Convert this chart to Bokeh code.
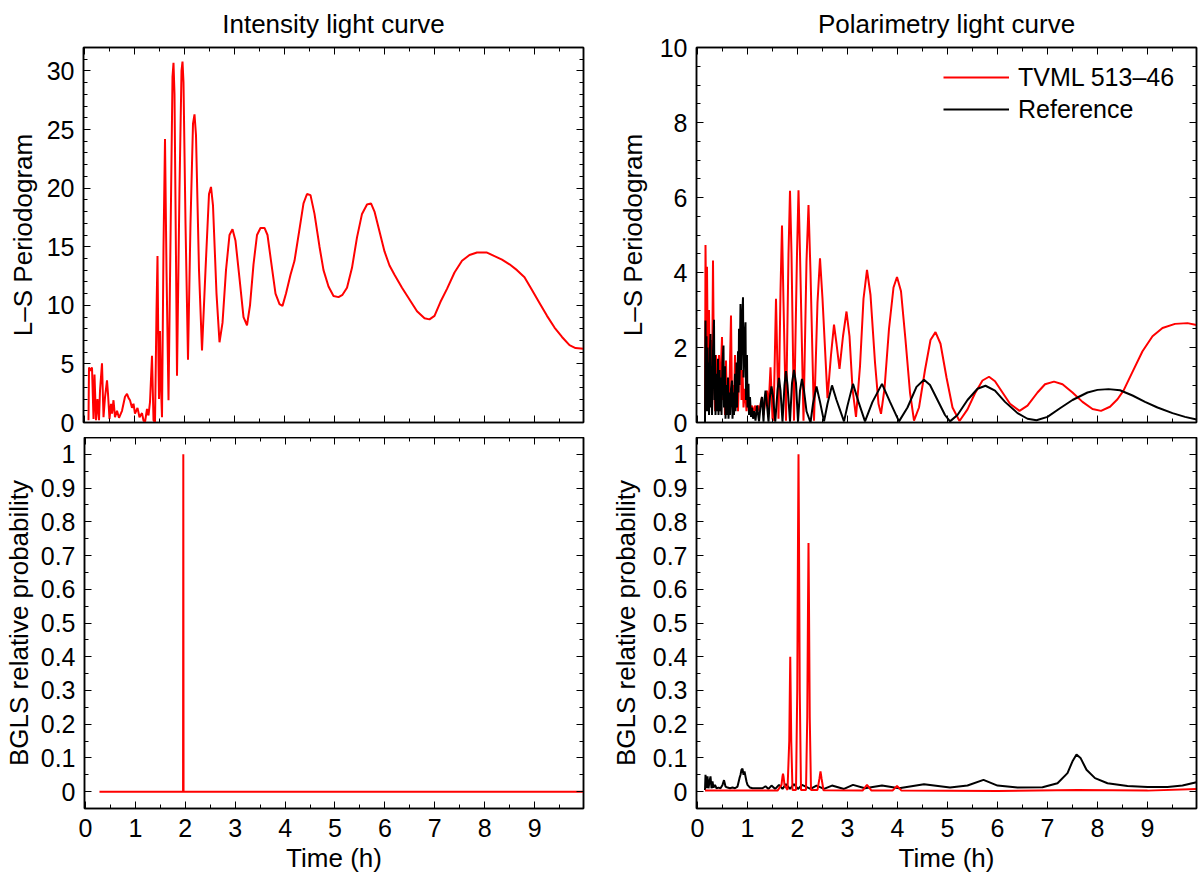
from bokeh.plotting import figure
from bokeh.models import (Range1d, FixedTicker, LinearAxis, NumeralTickFormatter,
                          CustomJSTickFormatter, Legend, LegendItem)
from bokeh.layouts import row, column
from bokeh.embed import file_html
from bokeh.resources import INLINE

# ---------------- data ----------------
X_TICKS = [0, 1, 2, 3, 4, 5, 6, 7, 8, 9]

# Intensity light curve: L-S periodogram (red)
int_ls_x = [0.08, 0.09, 0.12, 0.15, 0.18, 0.2, 0.23, 0.26, 0.29, 0.31, 0.35, 0.38, 0.41, 0.45, 0.47, 0.5,
            0.53, 0.55, 0.58, 0.61, 0.65, 0.69, 0.75, 0.78, 0.81, 0.85, 0.88, 0.91, 0.95, 0.98, 1.01, 1.06,
            1.1, 1.15, 1.18, 1.21, 1.25, 1.28, 1.31, 1.35, 1.38, 1.41, 1.44, 1.46, 1.48, 1.49, 1.51, 1.53,
            1.55, 1.58, 1.61, 1.64, 1.68, 1.73, 1.76, 1.78, 1.8, 1.83, 1.85, 1.9, 1.94, 1.96, 1.98, 2.02,
            2.07, 2.12, 2.17, 2.2, 2.23, 2.29, 2.35, 2.42, 2.49, 2.53, 2.57, 2.64, 2.7, 2.76, 2.83, 2.9,
            2.96, 3.02, 3.1, 3.18, 3.25, 3.31, 3.38, 3.45, 3.52, 3.6, 3.66, 3.73, 3.82, 3.9, 3.96, 4.03,
            4.12, 4.2, 4.3, 4.38, 4.45, 4.52, 4.6, 4.7, 4.78, 4.88, 4.98, 5.08, 5.16, 5.25, 5.35, 5.45,
            5.55, 5.65, 5.73, 5.8, 5.9, 6.0, 6.1, 6.2, 6.35, 6.5, 6.65, 6.8, 6.9, 7.0, 7.12, 7.25, 7.4,
            7.55, 7.7, 7.85, 8.05, 8.2, 8.35, 8.5, 8.65, 8.8, 8.95, 9.1, 9.25, 9.4, 9.55, 9.7, 9.82, 9.98]
int_ls_y = [0.2, 4.7, 4.4, 4.7, 0.3, 4.1, 0.2, 2.0, 0.2, 2.7, 5.05, 0.45, 2.15, 3.6, 2.45, 0.3,
            1.6, 0.75, 1.9, 0.45, 1.0, 0.4, 1.0, 1.6, 2.2, 2.45, 2.1, 1.9, 1.25, 1.6, 0.75, 1.25,
            0.45, 0.8, 0.17, 0.03, 1.15, 0.6, 1.75, 5.7, 0.2, 0.0, 9.5, 14.2, 5.0, 2.0, 7.8, 3.0,
            0.45, 15.0, 24.2, 13.0, 1.9, 19.0, 29.5, 30.7, 28.0, 14.0, 4.0, 20.0, 30.0, 30.8, 29.0, 17.0,
            5.35, 17.0, 25.5, 26.3, 24.5, 13.0, 6.15, 13.0, 19.5, 20.1, 18.5, 11.0, 6.85, 8.5, 13.0, 16.0,
            16.5, 15.5, 12.3, 9.0, 8.3, 10.0, 13.5, 16.0, 16.6, 16.6, 16.0, 13.8, 11.0, 10.1, 9.95, 11.0,
            12.6, 13.8, 16.5, 18.7, 19.5, 19.4, 17.8, 15.0, 13.0, 11.6, 10.8, 10.7, 10.9, 11.5, 13.2, 15.8,
            17.8, 18.6, 18.7, 18.0, 16.3, 14.6, 13.4, 12.6, 11.5, 10.5, 9.5, 8.9, 8.8, 9.1, 10.3, 11.4, 12.8,
            13.8, 14.3, 14.5, 14.5, 14.2, 13.9, 13.5, 13.0, 12.4, 11.3, 10.2, 9.1, 8.1, 7.3, 6.6, 6.35, 6.3]

# Intensity light curve: BGLS (red)
int_bgls_x = [0.28, 1.955, 1.96, 1.965, 9.98]
int_bgls_y = [0.0, 0.0, 1.0, 0.0, 0.0]

# Polarimetry light curve: L-S periodogram, TVML 513-46 (red)
pol_ls_red_x = [0.15, 0.16, 0.18, 0.19, 0.21, 0.23, 0.25, 0.27, 0.29, 0.31, 0.33, 0.35, 0.37, 0.39, 0.41,
                0.43, 0.45, 0.47, 0.49, 0.51, 0.53, 0.55, 0.57, 0.59, 0.61, 0.63, 0.65, 0.67, 0.69, 0.71,
                0.73, 0.75, 0.77, 0.79, 0.81, 0.84, 0.86, 0.88, 0.9, 0.92, 0.95, 0.98, 1.01, 1.03, 1.06,
                1.09, 1.12, 1.15, 1.18, 1.21, 1.24, 1.27, 1.29, 1.32, 1.36, 1.39, 1.42, 1.46, 1.5, 1.52,
                1.57, 1.62, 1.66, 1.69, 1.72, 1.77, 1.82, 1.85, 1.88, 1.93, 1.99, 2.02, 2.05, 2.12, 2.18,
                2.22, 2.26, 2.33, 2.4, 2.45, 2.5, 2.6, 2.67, 2.73, 2.78, 2.84, 2.91, 2.98, 3.04, 3.1, 3.17,
                3.25, 3.32, 3.39, 3.46, 3.55, 3.62, 3.67, 3.74, 3.83, 3.92, 3.99, 4.07, 4.16, 4.25, 4.33,
                4.43, 4.55, 4.66, 4.76, 4.86, 4.98, 5.1, 5.24, 5.4, 5.55, 5.7, 5.83, 5.95, 6.1, 6.25, 6.44,
                6.6, 6.8, 6.95, 7.13, 7.3, 7.5, 7.7, 7.9, 8.07, 8.25, 8.4, 8.52, 8.7, 8.9, 9.1, 9.3, 9.55,
                9.8, 9.98]
pol_ls_red_y = [0.0, 4.73, 2.0, 4.15, 1.0, 3.0, 0.5, 2.2, 0.8, 4.32, 1.2, 0.3, 1.8, 0.4, 1.0,
                1.8, 0.3, 1.5, 2.28, 0.6, 1.2, 0.2, 1.65, 0.4, 1.0, 0.3, 1.6, 2.85, 0.5, 1.0,
                0.2, 1.8, 0.4, 1.2, 0.3, 1.8, 2.5, 0.6, 1.4, 0.4, 0.9, 0.3, 0.7, 0.59, 0.3,
                0.45, 0.25, 0.45, 0.3, 0.45, 0.3, 0.55, 0.68, 0.2, 0.6, 0.85, 0.35, 1.47, 0.1, 0.05,
                3.3, 0.1, 3.5, 5.25, 3.2, 0.05, 4.5, 6.18, 4.5, 0.05, 4.5, 6.19, 4.5, 0.05, 4.3,
                5.8, 4.0, 0.05, 3.2, 4.38, 3.3, 0.65, 1.8, 2.61, 2.1, 1.43, 2.3, 2.96, 2.3, 0.9, 0.15,
                1.5, 3.3, 4.07, 3.4, 1.6, 0.5, 0.23, 0.9, 2.5, 3.6, 3.88, 3.5, 2.2, 0.8, 0.05,
                0.4, 1.4, 2.2, 2.41, 2.1, 1.2, 0.4, 0.04, 0.35, 0.78, 1.12, 1.22, 1.1, 0.8, 0.5, 0.31,
                0.45, 0.8, 1.02, 1.09, 1.02, 0.8, 0.55, 0.36, 0.31, 0.42, 0.62, 0.85, 1.35, 1.9, 2.3, 2.52, 2.63,
                2.65, 2.6]

# Polarimetry light curve: L-S periodogram, Reference (black)
pol_ls_ref_x = [0.15, 0.16, 0.17, 0.18, 0.19, 0.2, 0.21, 0.22, 0.23, 0.25, 0.26, 0.27, 0.28, 0.29, 0.31,
                0.33, 0.34, 0.35, 0.36, 0.38, 0.39, 0.41, 0.42, 0.44, 0.45, 0.47, 0.48, 0.5, 0.52, 0.53,
                0.55, 0.56, 0.58, 0.59, 0.61, 0.62, 0.64, 0.65, 0.67, 0.69, 0.7, 0.72, 0.73, 0.75, 0.76,
                0.78, 0.79, 0.81, 0.82, 0.83, 0.84, 0.86, 0.87, 0.89, 0.91, 0.92, 0.94, 0.96, 0.97, 0.99,
                1.0, 1.02, 1.03, 1.05, 1.07, 1.09, 1.11, 1.13, 1.16, 1.19, 1.23, 1.27, 1.29, 1.32, 1.34,
                1.36, 1.38, 1.42, 1.45, 1.48, 1.51, 1.555, 1.6, 1.63, 1.66, 1.7, 1.74, 1.77, 1.8, 1.85,
                1.89, 1.93, 1.97, 2.01, 2.05, 2.09, 2.13, 2.18, 2.26, 2.31, 2.38, 2.45, 2.53, 2.6, 2.69,
                2.78, 2.93, 3.0, 3.11, 3.22, 3.35, 3.5, 3.69, 3.85, 4.03, 4.2, 4.38, 4.53, 4.65, 4.8,
                4.95, 5.05, 5.2, 5.4, 5.6, 5.76, 5.95, 6.15, 6.4, 6.6, 6.78, 7.0, 7.25, 7.5, 7.8, 8.0,
                8.22, 8.45, 8.7, 8.95, 9.2, 9.5, 9.75, 9.98]
pol_ls_ref_y = [0.0, 2.72, 0.5, 2.3, 0.3, 2.0, 0.4, 1.6, 0.2, 2.0, 2.36, 0.4, 1.5, 0.2, 1.9,
                2.74, 0.6, 1.8, 0.2, 1.3, 0.3, 1.7, 0.2, 1.4, 0.3, 1.2, 0.2, 1.6, 2.05, 0.4,
                1.5, 0.1, 1.0, 0.2, 1.2, 0.1, 0.8, 0.2, 0.9, 1.12, 0.1, 0.8, 0.2, 1.3, 0.3,
                1.6, 0.4, 1.9, 0.8, 2.5, 1.0, 3.16, 1.4, 2.6, 3.34, 1.2, 2.2, 2.67, 0.6, 1.8,
                0.4, 1.03, 0.2, 0.68, 0.15, 0.4, 0.1, 0.3, 0.05, 0.45, 0.03, 0.55, 0.68, 0.02, 0.6,
                0.85, 0.6, 0.02, 0.7, 0.96, 0.7, 0.02, 0.85, 1.19, 0.85, 0.02, 1.0, 1.37, 1.0, 0.02,
                1.05, 1.40, 1.05, 0.02, 0.85, 1.16, 0.85, 0.3, 0.0, 0.5, 0.96, 0.55, 0.03, 0.5, 0.99,
                0.6, 0.03, 0.45, 1.03, 0.55, 0.03, 0.55, 1.03, 0.55, 0.03, 0.4, 0.95, 1.14, 1.0, 0.6,
                0.2, 0.03, 0.2, 0.6, 0.9, 0.98, 0.85, 0.55, 0.25, 0.1, 0.06, 0.15, 0.38, 0.6, 0.8, 0.87,
                0.89, 0.86, 0.72, 0.55, 0.4, 0.25, 0.15, 0.08]

# Polarimetry light curve: BGLS, TVML 513-46 (red)
pol_bgls_red_x = [0.15, 1.6, 1.68, 1.7, 1.71, 1.72, 1.74, 1.8, 1.835, 1.85, 1.855, 1.86, 1.875, 1.9,
                  1.97, 1.995, 2.01, 2.02, 2.03, 2.045, 2.07, 2.17, 2.195, 2.21, 2.22, 2.23, 2.245, 2.27,
                  2.4, 2.44, 2.46, 2.48, 2.52, 3.3, 3.39, 3.48, 3.9, 3.99, 4.08, 6.0, 7.6, 9.0, 9.98]
pol_bgls_red_y = [0.003, 0.003, 0.02, 0.045, 0.053, 0.045, 0.02, 0.005, 0.15, 0.34, 0.40, 0.34, 0.15, 0.005,
                  0.005, 0.3, 0.75, 1.0, 0.75, 0.3, 0.005, 0.005, 0.22, 0.55, 0.737, 0.55, 0.22, 0.005,
                  0.005, 0.04, 0.06, 0.04, 0.004, 0.003, 0.02, 0.003, 0.003, 0.017, 0.003, 0.002, 0.005, 0.003, 0.008]

# Polarimetry light curve: BGLS, Reference (black)
pol_bgls_ref_x = [0.15, 0.16, 0.18, 0.2, 0.22, 0.24, 0.26, 0.28, 0.3, 0.32, 0.35, 0.38, 0.42, 0.46, 0.5,
                  0.53, 0.56, 0.6, 0.65, 0.7, 0.75, 0.8, 0.84, 0.86, 0.88, 0.9, 0.92, 0.94, 0.96, 0.98,
                  1.0, 1.05, 1.1, 1.3, 1.36, 1.42, 1.48, 1.555, 1.63, 1.7, 1.77, 1.85, 1.93, 2.01, 2.09,
                  2.26, 2.38, 2.53, 2.69, 2.93, 3.11, 3.35, 3.69, 4.03, 4.53, 5.05, 5.4, 5.72, 6.0, 6.4,
                  6.9, 7.2, 7.4, 7.5, 7.58, 7.66, 7.78, 7.95, 8.2, 8.6, 9.0, 9.4, 9.7, 9.98]
pol_bgls_ref_y = [0.005, 0.05, 0.01, 0.045, 0.01, 0.03, 0.045, 0.01, 0.03, 0.012, 0.02, 0.01, 0.012, 0.01, 0.02,
                  0.034, 0.015, 0.012, 0.01, 0.012, 0.01, 0.015, 0.04, 0.05, 0.065, 0.068, 0.05, 0.06, 0.045, 0.03,
                  0.02, 0.012, 0.01, 0.01, 0.016, 0.008, 0.018, 0.008, 0.02, 0.008, 0.022, 0.008, 0.022, 0.008, 0.02,
                  0.008, 0.018, 0.008, 0.018, 0.008, 0.02, 0.01, 0.018, 0.01, 0.022, 0.012, 0.018, 0.035, 0.018, 0.012,
                  0.013, 0.025, 0.055, 0.09, 0.11, 0.1, 0.065, 0.04, 0.025, 0.017, 0.014, 0.014, 0.018, 0.028]

LS_INT_TICKS = [0, 5, 10, 15, 20, 25, 30]
LS_POL_TICKS = [0, 2, 4, 6, 8, 10]
BGLS_TICKS = [0, 0.1, 0.2, 0.3, 0.4, 0.5, 0.6, 0.7, 0.8, 0.9, 1.0]

TITLES = ["Intensity light curve", "Polarimetry light curve"]
LEGEND_LABELS = ["TVML 513\u201346", "Reference"]

# ---------------- styling ----------------
FONT = "Liberation Sans"
RED = "#ff0000"
BLACK = "#000000"
LW = 2.0
FRAME_W = 500

X_MINOR = [k + 0.5 for k in range(10)]
INT_MINOR = [v for v in range(0, 33) if v % 5 != 0]
POL_MINOR = [v * 0.5 for v in range(0, 21) if v % 4 != 0]
BGLS_MINOR = [round(-0.05 + 0.1 * k, 2) for k in range(12)]


def style_axis(ax, ticks, minor, labels=True):
    ax.ticker = FixedTicker(ticks=ticks, minor_ticks=minor)
    ax.axis_line_color = "black"
    ax.axis_line_width = 1.5
    ax.major_tick_in = 7
    ax.major_tick_out = 0
    ax.minor_tick_in = 4
    ax.minor_tick_out = 0
    ax.major_tick_line_color = "black"
    ax.minor_tick_line_color = "black"
    ax.major_tick_line_width = 1
    ax.minor_tick_line_width = 1
    if labels:
        ax.major_label_text_font = FONT
        ax.major_label_text_font_size = "25px"
        ax.major_label_text_color = "black"
        ax.major_label_standoff = 9
    else:
        ax.formatter = CustomJSTickFormatter(code="return ''")
        ax.major_label_text_font_size = "1px"
        ax.major_label_standoff = 0
    ax.axis_label_text_font = FONT
    ax.axis_label_text_font_size = "26px"
    ax.axis_label_text_font_style = "normal"
    ax.axis_label_text_color = "black"


def make_panel(col, top, y_lo, y_hi, y_ticks, y_minor, ylabel, label_standoff, y_fmt=None, title=None):
    left = 83 if col == 0 else 103
    right = 10 if col == 0 else 3
    frame_h = 375 if top else 371
    t_b = 47 if top else 0
    b_b = 15 if top else 67
    p = figure(width=left + FRAME_W + right, height=t_b + frame_h + b_b,
               x_range=Range1d(-0.02, 9.98), y_range=Range1d(y_lo, y_hi),
               output_backend="svg", toolbar_location=None,
               min_border_left=left, min_border_right=right,
               min_border_top=t_b, min_border_bottom=b_b,
               background_fill_color="white", border_fill_color="white")
    p.grid.visible = False
    p.outline_line_color = "black"
    p.outline_line_width = 1.5
    if title:
        p.title.text = title
        p.title.text_font = FONT
        p.title.text_font_size = "26px"
        p.title.text_font_style = "normal"
        p.title.text_color = "black"
        p.title.align = "center"
        p.title.vertical_align = "top"
        p.title.standoff = 14
    # bottom axis
    xb = p.xaxis[0]
    style_axis(xb, X_TICKS, X_MINOR, labels=not top)
    if not top:
        xb.axis_label = "Time (h)"
        xb.major_label_standoff = 10
        xb.axis_label_standoff = 3
    # left axis
    yl = p.yaxis[0]
    style_axis(yl, y_ticks, y_minor, labels=True)
    if y_fmt is not None:
        yl.formatter = y_fmt
    yl.axis_label = ylabel
    yl.axis_label_standoff = label_standoff
    # mirrored axes (ticks only)
    xa = LinearAxis()
    style_axis(xa, X_TICKS, X_MINOR, labels=False)
    p.add_layout(xa, "above")
    yr = LinearAxis()
    style_axis(yr, y_ticks, y_minor, labels=False)
    p.add_layout(yr, "right")
    return p


p1 = make_panel(0, True, 0, 32, LS_INT_TICKS, INT_MINOR, "L\u2013S Periodogram", 6, title=TITLES[0])
p1.line(int_ls_x, int_ls_y, line_color=RED, line_width=LW)

p2 = make_panel(1, True, 0, 10, LS_POL_TICKS, POL_MINOR, "L\u2013S Periodogram", 9, title=TITLES[1])
r_red = p2.line(pol_ls_red_x, pol_ls_red_y, line_color=RED, line_width=LW)
r_blk = p2.line(pol_ls_ref_x, pol_ls_ref_y, line_color=BLACK, line_width=LW)
legend = Legend(items=[LegendItem(label=LEGEND_LABELS[0], renderers=[r_red]),
                       LegendItem(label=LEGEND_LABELS[1], renderers=[r_blk])],
                location=(247, 298), border_line_color=None, background_fill_alpha=0,
                glyph_width=66, glyph_height=30, label_standoff=9, spacing=2,
                margin=0, padding=8, label_height=30,
                label_text_font=FONT, label_text_font_size="25px", label_text_color="black")
p2.add_layout(legend)

p3 = make_panel(0, False, -0.05, 1.05, BGLS_TICKS, BGLS_MINOR, "BGLS relative probability", 4,
                y_fmt=NumeralTickFormatter(format="0.[0]"))
p3.line(int_bgls_x, int_bgls_y, line_color=RED, line_width=LW)

p4 = make_panel(1, False, -0.05, 1.05, BGLS_TICKS, BGLS_MINOR, "BGLS relative probability", 9,
                y_fmt=NumeralTickFormatter(format="0.[0]"))
p4.line(pol_bgls_ref_x, pol_bgls_ref_y, line_color=BLACK, line_width=LW)
p4.line(pol_bgls_red_x, pol_bgls_red_y, line_color=RED, line_width=LW)

layout = column(row(p1, p2), row(p3, p4))

open("out.html", "w").write(file_html(layout, INLINE))
